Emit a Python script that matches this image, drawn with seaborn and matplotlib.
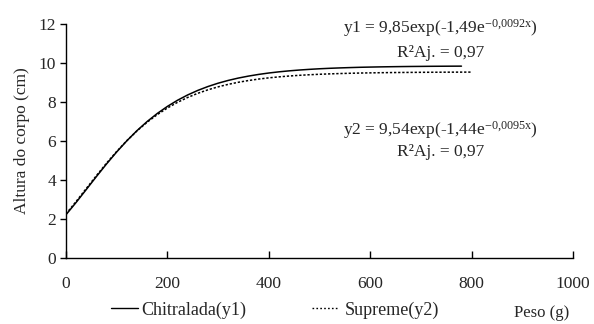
import numpy as np
import pandas as pd
import seaborn as sns
import matplotlib
matplotlib.use("Agg")
import matplotlib.pyplot as plt

# Values
x1 = [0, 20, 40, 60, 80, 100, 120, 140, 160, 180, 200, 220, 240, 260, 280, 300,
      320, 340, 360, 380, 400, 420, 440, 460, 480, 500, 520, 540, 560, 580, 600,
      620, 640, 660, 680, 700, 720, 740, 760, 780]
chitralada = [2.220, 2.851, 3.512, 4.177, 4.825, 5.439, 6.010, 6.531, 6.998, 7.412,
              7.774, 8.090, 8.362, 8.595, 8.794, 8.964, 9.107, 9.228, 9.329, 9.415,
              9.487, 9.547, 9.597, 9.639, 9.674, 9.704, 9.728, 9.748, 9.765, 9.780,
              9.791, 9.801, 9.809, 9.816, 9.822, 9.826, 9.831, 9.834, 9.837, 9.839]
x2 = [0, 20, 40, 60, 80, 100, 120, 140, 160, 180, 200, 220, 240, 260, 280, 300,
      320, 340, 360, 380, 400, 420, 440, 460, 480, 500, 520, 540, 560, 580, 600,
      620, 640, 660, 680, 700, 720, 740, 760, 780, 800]
supreme = [2.260, 2.900, 3.563, 4.225, 4.865, 5.466, 6.019, 6.519, 6.963, 7.353,
           7.692, 7.984, 8.233, 8.446, 8.626, 8.777, 8.905, 9.012, 9.101, 9.176,
           9.238, 9.289, 9.332, 9.368, 9.397, 9.422, 9.442, 9.459, 9.473, 9.485,
           9.494, 9.502, 9.509, 9.514, 9.518, 9.522, 9.525, 9.528, 9.530, 9.532, 9.533]
series_names = ["Chitralada(y1)", "Supreme(y2)"]
x_ticks = [0, 200, 400, 600, 800, 1000]
y_ticks = [0, 2, 4, 6, 8, 10, 12]

df = pd.concat([
    pd.DataFrame({"x": x1, "y": chitralada, "s": series_names[0]}),
    pd.DataFrame({"x": x2, "y": supreme, "s": series_names[1]}),
], ignore_index=True)

sns.set_style("white")
plt.rcParams["font.family"] = ["Liberation Serif", "DejaVu Serif"]
plt.rcParams["mathtext.fontset"] = "custom"
plt.rcParams["mathtext.rm"] = "Liberation Serif"
plt.rcParams["mathtext.it"] = "Liberation Serif"

FS = 12.5
fig = plt.figure(figsize=(5.94, 3.24), dpi=100)
ax = fig.add_axes([66 / 594, 1 - 258 / 324, (573 - 66) / 594, (258 - 24) / 324])

sns.lineplot(data=df, x="x", y="y", hue="s", style="s",
             palette=["black", "black"],
             dashes={series_names[0]: "", series_names[1]: (1.5, 1.2)},
             linewidth=1.1, ax=ax, legend=False, sort=True)

ax.set_xlim(0, 1000)
ax.set_ylim(0, 12)
ax.set_xticks(x_ticks)
ax.set_yticks(y_ticks)
ax.set_xlabel("")
ax.set_ylabel("Altura do corpo (cm)", fontsize=FS, labelpad=6)
ax.tick_params(axis="x", direction="in", length=5, width=1, labelsize=FS, pad=13, color="black")
ax.tick_params(axis="y", direction="out", length=4, width=1, labelsize=FS, pad=3, color="black")
ax.tick_params(bottom=True, left=True)
sns.despine(ax=ax)
for sp in ["left", "bottom"]:
    ax.spines[sp].set_color("black")
    ax.spines[sp].set_linewidth(1)

cx = 0.738
ax.text(cx, 0.983, r"y1 = 9,85exp(-1,49e$^{\mathrm{-0{,}0092x}}$)", transform=ax.transAxes,
        ha="center", va="center", fontsize=FS)
ax.text(cx, 0.876, "R²Aj. = 0,97", transform=ax.transAxes,
        ha="center", va="center", fontsize=FS)
ax.text(cx, 0.547, r"y2 = 9,54exp(-1,44e$^{\mathrm{-0{,}0095x}}$)", transform=ax.transAxes,
        ha="center", va="center", fontsize=FS)
ax.text(cx, 0.453, "R²Aj. = 0,97", transform=ax.transAxes,
        ha="center", va="center", fontsize=FS)

LFS = 13
h1 = plt.Line2D([], [], color="black", lw=1.0)
h2 = plt.Line2D([], [], color="black", lw=1.0, linestyle=(0, (1.2, 1.6)))
fig.legend([h1], [series_names[0]], loc="center left", bbox_to_anchor=(111 / 594, 1 - 310 / 324),
           frameon=False, fontsize=LFS, handlelength=1.5, handletextpad=0.2,
           borderpad=0, borderaxespad=0)
fig.legend([h2], [series_names[1]], loc="center left", bbox_to_anchor=(312 / 594, 1 - 310 / 324),
           frameon=False, fontsize=LFS, handlelength=1.45, handletextpad=0.35,
           borderpad=0, borderaxespad=0)
fig.text(542 / 594, 1 - 313 / 324, "Peso (g)", ha="center", va="center", fontsize=12)

fig.savefig("out.png", dpi=100)
